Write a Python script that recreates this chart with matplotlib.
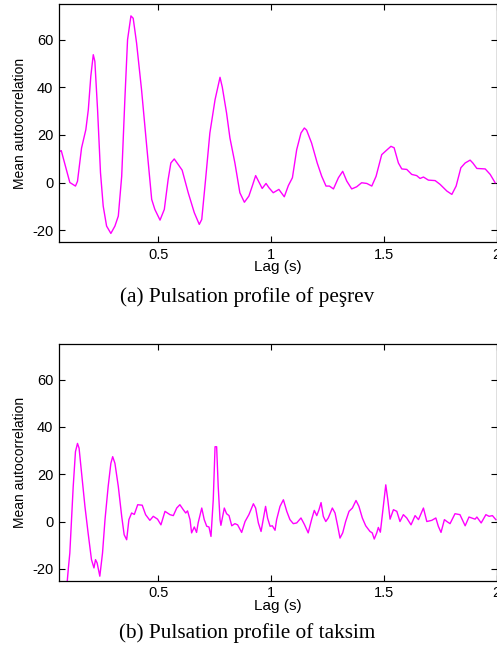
import matplotlib
matplotlib.use("Agg")
import matplotlib.pyplot as plt

# ---- data: (a) peşrev ----
lag_a = [0.064, 0.070, 0.108, 0.133, 0.142, 0.160, 0.179, 0.190, 0.201, 0.212, 0.219,
         0.231, 0.244, 0.256, 0.271, 0.290, 0.308, 0.323, 0.338, 0.352, 0.364, 0.379,
         0.389, 0.404, 0.426, 0.449, 0.471, 0.485, 0.508, 0.527, 0.544, 0.556, 0.571,
         0.589, 0.606, 0.633, 0.660, 0.682, 0.693, 0.710, 0.729, 0.752, 0.774, 0.784,
         0.803, 0.818, 0.840, 0.862, 0.882, 0.902, 0.917, 0.932, 0.947, 0.961, 0.978,
         0.991, 1.010, 1.035, 1.059, 1.077, 1.095, 1.114, 1.133, 1.148, 1.158, 1.180,
         1.205, 1.225, 1.244, 1.259, 1.277, 1.299, 1.318, 1.336, 1.358, 1.380, 1.402,
         1.425, 1.447, 1.466, 1.491, 1.513, 1.532, 1.546, 1.565, 1.580, 1.602, 1.624,
         1.646, 1.661, 1.676, 1.698, 1.728, 1.750, 1.780, 1.802, 1.821, 1.842, 1.861,
         1.883, 1.895, 1.913, 1.950, 1.972, 1.994]
acf_a = [13.1, 13.4, 0.0, -1.5, 0.5, 14.5, 22.2, 30.6, 44.6, 53.7, 50.9,
         30.6, 4.1, -9.9, -18.3, -21.4, -18.3, -14.1, 2.6, 34.8, 60.0, 70.0,
         69.0, 58.6, 39.0, 15.2, -7.1, -11.3, -15.8, -11.3, 1.3, 8.2, 9.9,
         7.5, 5.2, -4.3, -12.7, -17.6, -15.5, 1.3, 20.8, 34.8, 44.2, 40.1,
         29.2, 18.7, 8.2, -4.3, -8.3, -5.7, -1.5, 2.9, 0.1, -2.5, -0.4,
         -2.2, -4.3, -2.9, -6.0, -1.3, 2.0, 13.8, 20.8, 22.9, 22.0, 16.6,
         8.2, 2.6, -1.5, -1.5, -2.7, 2.0, 4.7, 0.6, -2.7, -1.8, -0.1,
         -0.4, -1.5, 2.6, 11.7, 13.6, 15.2, 14.6, 8.2, 5.7, 5.5, 3.4,
         2.9, 1.7, 2.3, 1.0, 0.8, -0.8, -3.6, -5.0, -1.5, 6.2, 8.2,
         9.4, 8.2, 5.9, 5.7, 3.4, -0.1]

# ---- data: (b) taksim ----
lag_b = [0.085, 0.101, 0.108, 0.123, 0.133, 0.142, 0.149, 0.160, 0.175, 0.189, 0.204,
         0.215, 0.222, 0.229, 0.241, 0.253, 0.264, 0.278, 0.290, 0.298, 0.308, 0.323,
         0.338, 0.349, 0.360, 0.370, 0.382, 0.394, 0.409, 0.429, 0.444, 0.463, 0.478,
         0.497, 0.512, 0.530, 0.552, 0.567, 0.582, 0.596, 0.611, 0.622, 0.630, 0.641,
         0.648, 0.660, 0.670, 0.677, 0.693, 0.704, 0.715, 0.725, 0.734, 0.744, 0.752,
         0.759, 0.766, 0.774, 0.778, 0.793, 0.803, 0.814, 0.826, 0.840, 0.852, 0.870,
         0.885, 0.902, 0.922, 0.932, 0.944, 0.956, 0.966, 0.976, 0.985, 0.996, 1.006,
         1.018, 1.025, 1.040, 1.055, 1.070, 1.084, 1.099, 1.114, 1.133, 1.148, 1.165,
         1.180, 1.192, 1.203, 1.213, 1.222, 1.232, 1.243, 1.254, 1.272, 1.284, 1.296,
         1.306, 1.318, 1.331, 1.346, 1.361, 1.377, 1.390, 1.405, 1.420, 1.439, 1.449,
         1.458, 1.469, 1.476, 1.485, 1.498, 1.509, 1.518, 1.528, 1.543, 1.558, 1.572,
         1.587, 1.602, 1.621, 1.639, 1.654, 1.676, 1.691, 1.713, 1.731, 1.742, 1.754,
         1.769, 1.780, 1.794, 1.816, 1.838, 1.861, 1.878, 1.893, 1.905, 1.913, 1.932,
         1.953, 1.967, 1.982, 1.997]
acf_b = [-38.0, -20.3, -13.3, 14.8, 29.5, 33.0, 31.0, 20.4, 6.4, -4.8, -16.1,
         -19.6, -16.1, -17.5, -23.1, -13.3, 0.8, 14.8, 24.6, 27.4, 24.6, 14.8,
         2.2, -5.6, -7.7, 0.8, 3.6, 3.0, 7.1, 6.9, 2.9, 0.5, 2.2,
         1.0, -1.4, 4.3, 2.9, 2.5, 5.7, 7.1, 5.0, 3.6, 4.5, 0.8,
         -4.8, -2.3, -4.6, -0.6, 5.7, 0.8, -2.0, -2.3, -6.3, 9.2, 31.6,
         31.6, 14.8, 0.8, -1.6, 5.7, 3.3, 2.5, -1.8, -0.9, -1.4, -4.6,
         0.0, 2.9, 7.5, 5.7, -0.6, -4.2, 1.0, 6.4, 1.4, -2.0, -1.8,
         -3.7, 0.8, 6.4, 9.2, 4.3, 0.8, -0.9, -0.6, 1.5, -1.2, -4.8,
         0.8, 4.7, 2.5, 5.0, 8.0, 2.2, 0.0, 1.5, 5.7, 3.6, -2.0,
         -7.0, -4.8, 0.0, 4.3, 5.7, 8.9, 6.4, 1.5, -1.8, -4.2, -4.8,
         -7.4, -4.8, -2.5, -4.5, 6.4, 15.5, 9.2, 1.0, 5.0, 4.3, 0.0,
         2.9, 1.5, -1.4, 2.5, 0.8, 5.7, 0.0, 0.5, 1.5, -2.0, -4.6,
         0.8, 0.0, -0.9, 3.3, 2.9, -1.8, 1.9, 1.4, 1.0, 1.9, -0.6,
         2.9, 2.2, 2.5, 0.8]

xticks = [0.5, 1.0, 1.5, 2.0]
xticklabels = ["0.5", "1", "1.5", "2"]
yticks = [-20, 0, 20, 40, 60]
yticklabels = ["-20", "0", "20", "40", "60"]
captions = ["(a) Pulsation profile of peşrev", "(b) Pulsation profile of taksim"]

plt.rcParams["font.family"] = ["Liberation Sans", "DejaVu Sans"]
plt.rcParams["axes.unicode_minus"] = False

W, H = 497, 647
fig = plt.figure(figsize=(W / 100, H / 100), dpi=100)

def frac(left, top, right, bottom):
    return [left / W, 1 - bottom / H, (right - left) / W, (bottom - top) / H]

boxes = [frac(59, 4, 496.5, 242), frac(59, 344, 496.5, 580.7)]
series = [(lag_a, acf_a), (lag_b, acf_b)]
cap_y = [297, 633]

for box, (lx, ly), cap, cy in zip(boxes, series, captions, cap_y):
    ax = fig.add_axes(box)
    ax.plot(lx, ly, color="#ff00ff", lw=1.0)
    ax.set_xlim(0.06, 2.0)
    ax.set_ylim(-25, 75)
    ax.set_xticks(xticks)
    ax.set_xticklabels(xticklabels)
    ax.set_yticks(yticks)
    ax.set_yticklabels(yticklabels)
    ax.tick_params(direction="in", top=True, right=True, length=4, width=0.8,
                   labelsize=10.5, pad=4)
    for s in ax.spines.values():
        s.set_linewidth(0.9)
    ax.set_xlabel("Lag (s)", fontsize=11, labelpad=-1)
    ax.set_ylabel("Mean autocorrelation", fontsize=10, labelpad=4)
    fig.text(0.498, 1 - cy / H, cap, ha="center", va="center",
             fontsize=15.3, family=["Liberation Serif", "DejaVu Serif"])

fig.savefig("out.png", dpi=100)
